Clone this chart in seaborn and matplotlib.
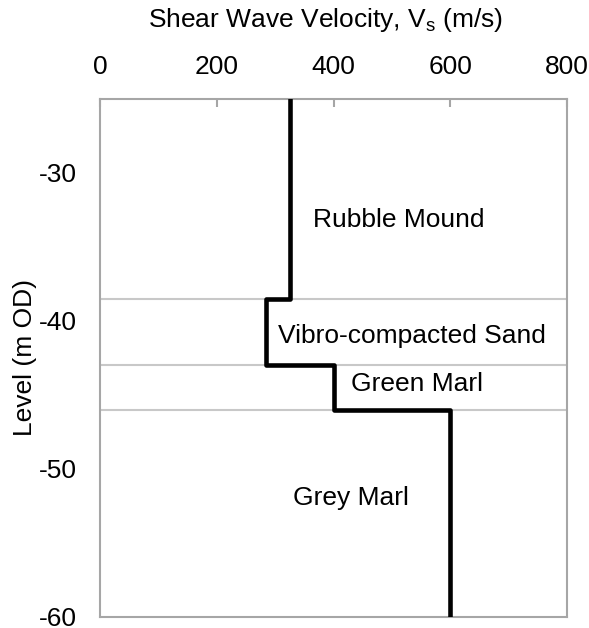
import matplotlib
matplotlib.use("Agg")
import matplotlib.pyplot as plt
import seaborn as sns
import pandas as pd

# Data
layer_names = ["Rubble Mound", "Vibro-compacted Sand", "Green Marl", "Grey Marl"]
layer_tops = [-25.0, -38.5, -43.0, -46.0]
layer_bottoms = [-38.5, -43.0, -46.0, -60.0]
layer_vs = [325, 285, 400, 600]
label_x = [512, 534, 543, 430]
label_y = [-33.66, -41.49, -44.73, -52.44]
boundaries = [-38.5, -43.0, -46.0]
x_ticks = [0, 200, 400, 600, 800]
y_ticks = [-30, -40, -50, -60]

# Build step profile
vs_pts, lvl_pts = [], []
for t, b, v in zip(layer_tops, layer_bottoms, layer_vs):
    vs_pts += [v, v]
    lvl_pts += [t, b]
df = pd.DataFrame({"Vs": vs_pts, "Level": lvl_pts})

sns.set_theme(style="white")
plt.rcParams["font.family"] = ["Liberation Sans", "DejaVu Sans"]
plt.rcParams["mathtext.fontset"] = "custom"
plt.rcParams["mathtext.rm"] = "Liberation Sans"
plt.rcParams["mathtext.it"] = "Liberation Sans"
plt.rcParams["axes.unicode_minus"] = False
plt.rcParams["text.color"] = "black"
plt.rcParams["axes.labelcolor"] = "black"

FS = 19
fig = plt.figure(figsize=(5.89, 6.28), dpi=100)
ax = fig.add_axes([100 / 589, 1 - 617 / 628, 467 / 589, 518 / 628])

for yb in boundaries:
    ax.axhline(yb, color="#c8c8c8", lw=1.5, zorder=1)

sns.lineplot(data=df, x="Vs", y="Level", sort=False, estimator=None,
             color="black", lw=3.3, ax=ax, zorder=3)

for name, lx, ly in zip(layer_names, label_x, label_y):
    ax.text(lx, ly, name, ha="center", va="baseline", fontsize=FS, color="black")

ax.set_xlim(0, 800)
ax.set_ylim(-60, -25)
ax.set_xticks(x_ticks)
ax.set_yticks(y_ticks)
ax.xaxis.tick_top()
ax.xaxis.set_label_position("top")
ax.set_xlabel("Shear Wave Velocity, V$_\\mathrm{s}$ (m/s)", fontsize=FS, labelpad=20)
ax.xaxis.label.set_x(0.484)
ax.set_ylabel("Level (m OD)", fontsize=FS, labelpad=1)
ax.tick_params(axis="both", direction="in", length=5.5, width=1.5, color="#a6a6a6",
               labelsize=FS, labelcolor="black")
ax.tick_params(axis="x", pad=14.5)
ax.tick_params(axis="y", pad=17)
for s in ax.spines.values():
    s.set_color("#a6a6a6")
    s.set_linewidth(1.5)

fig.savefig("out.png", dpi=100)
